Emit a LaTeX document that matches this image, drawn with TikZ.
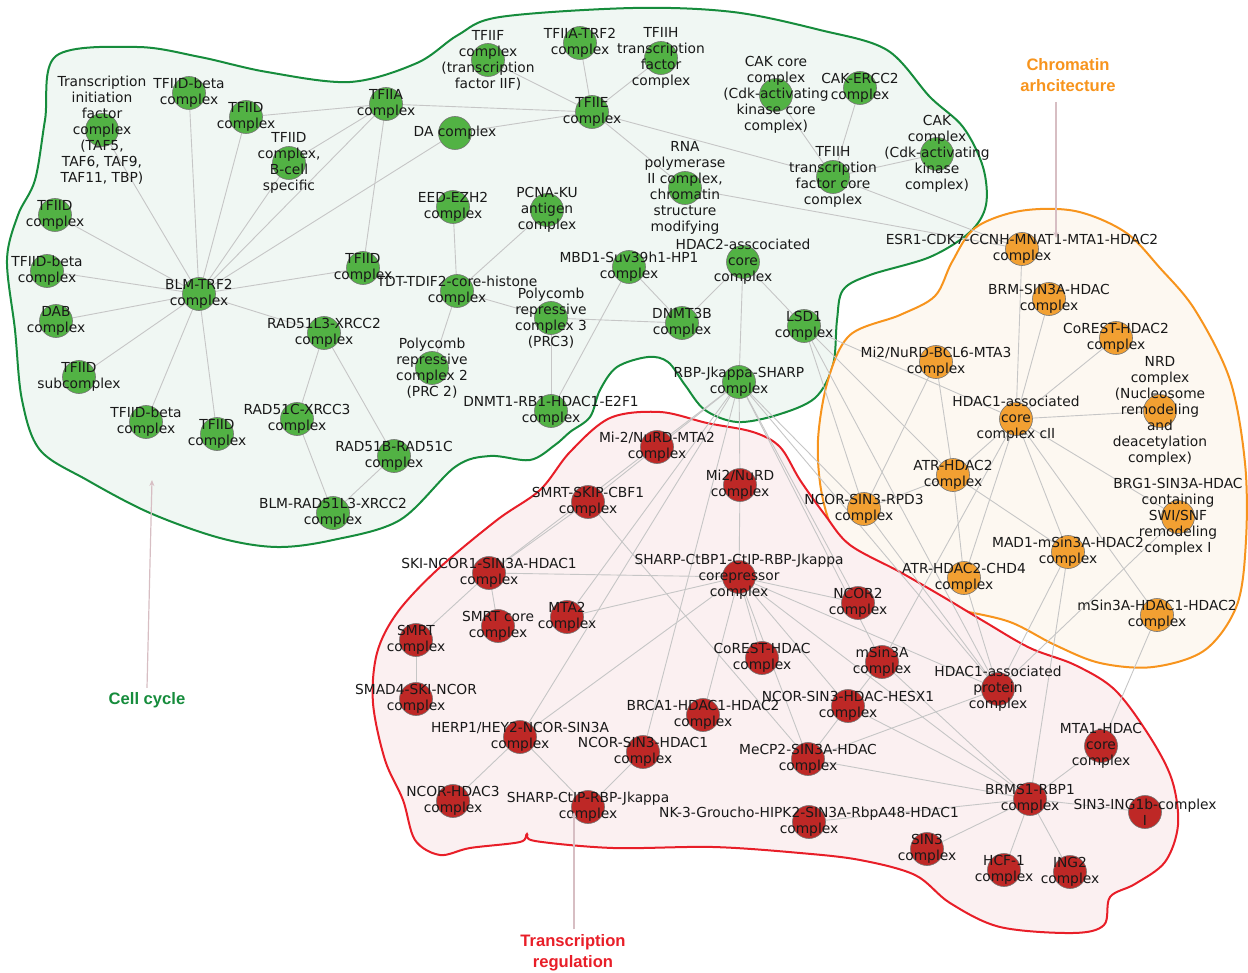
\documentclass[tikz,border=0pt]{standalone}
\usepackage{fontspec}
\setmainfont{DejaVu Sans}
\newfontfamily\lblfont{Liberation Sans}
\usetikzlibrary{arrows.meta}
\pgfdeclarelayer{bg}
\pgfdeclarelayer{edges}
\pgfsetlayers{bg,edges,main}
\definecolor{gnode}{RGB}{82,178,68}
\definecolor{onode}{RGB}{242,160,50}
\definecolor{rnode}{RGB}{190,40,38}
\definecolor{edgec}{RGB}{198,198,198}
\definecolor{gfill}{RGB}{240,247,243}
\definecolor{gline}{RGB}{22,140,60}
\definecolor{ofill}{RGB}{253,248,241}
\definecolor{oline}{RGB}{247,148,29}
\definecolor{rfill}{RGB}{251,240,241}
\definecolor{rline}{RGB}{232,30,40}
\definecolor{ptr}{RGB}{215,190,195}
\tikzset{
  G/.style={circle,draw=black!55,line width=0.3pt,fill=gnode,minimum size=16.5pt,inner sep=0pt},
  O/.style={circle,draw=black!55,line width=0.3pt,fill=onode,minimum size=16.5pt,inner sep=0pt},
  R/.style={circle,draw=black!55,line width=0.3pt,fill=rnode,minimum size=16.5pt,inner sep=0pt},
  lab/.style={align=center,inner sep=0pt,font=\fontsize{6.9}{8}\selectfont,text=black!90},
  ed/.style={draw=edgec,line width=0.45pt},
  region/.style={line width=1pt},
  bigl/.style={align=center,inner sep=0pt,font=\lblfont\bfseries\fontsize{8.3}{10.5}\selectfont},
  pointer/.style={draw=ptr,line width=0.6pt,-{Stealth[length=3pt,width=2.5pt]}}
}
\def\nodelist{%
tif/102/130/G/{Transcription\\initiation\\factor\\complex\\(TAF5,\\TAF6, TAF9,\\TAF11, TBP)},
tfiidbA/189/93/G/{TFIID-beta\\complex},
tfiidA/246/117/G/{TFIID\\complex},
tfiidB/289/163/G/{TFIID\\complex,\\B-cell\\specific},
tfiia/386/104/G/{TFIIA\\complex},
tfiidC/55/215/G/{TFIID\\complex},
tfiidbB/47/271/G/{TFIID-beta\\complex},
blm/199/294/G/{BLM-TRF2\\complex},
tfiidD/363/268/G/{TFIID\\complex},
dab/56/321/G/{DAB\\complex},
tfiidsub/79/377/G/{TFIID\\subcomplex},
tfiidbC/146/422/G/{TFIID-beta\\complex},
tfiidE/217/434/G/{TFIID\\complex},
rad51l3/324/333/G/{RAD51L3-XRCC2\\complex},
rad51c/297/419/G/{RAD51C-XRCC3\\complex},
rad51b/394/456/G/{RAD51B-RAD51C\\complex},
blmrad/333/513/G/{BLM-RAD51L3-XRCC2\\complex},
tdt/457/291/G/{TDT-TDIF2-core-histone\\complex},
prc3/551/318/G/{Polycomb\\repressive\\complex 3\\(PRC3)},
prc2/432/368/G/{Polycomb\\repressive\\complex 2\\(PRC 2)},
dnmt1/551/411/G/{DNMT1-RB1-HDAC1-E2F1\\complex},
mbd1/629/267/G/{MBD1-Suv39h1-HP1\\complex},
dnmt3b/682/323/G/{DNMT3B\\complex},
hdac2core/743/262/G/{HDAC2-asscociated\\core\\complex},
lsd1/804/326/G/{LSD1\\complex},
rbp/739/382/G/{RBP-Jkappa-SHARP\\complex},
eed/453/207/G/{EED-EZH2\\complex},
pcna/547/210/G/{PCNA-KU\\antigen\\complex},
da/455/133/G/{DA complex},
tfiie/592/112/G/{TFIIE\\complex},
tfiif/488/60/G/{TFIIF\\complex\\(transcription\\factor IIF)},
tfiiatrf/580/43/G/{TFIIA-TRF2\\complex},
tfiih/661/58/G/{TFIIH\\transcription\\factor\\complex},
cakcore/776/95/G/{CAK core\\complex\\(Cdk-activating\\kinase core\\complex)},
cakercc/860/88/G/{CAK-ERCC2\\complex},
rnapol/685/188/G/{RNA\\polymerase\\II complex,\\chromatin\\structure\\modifying},
tfiihcore/833/177/G/{TFIIH\\transcription\\factor core\\complex},
cak/937/154/G/{CAK\\complex\\(Cdk-activating\\kinase\\complex)},
esr1/1022/249/O/{ESR1-CDK7-CCNH-MNAT1-MTA1-HDAC2\\complex},
brm/1049/299/O/{BRM-SIN3A-HDAC\\complex},
corest2/1116/338/O/{CoREST-HDAC2\\complex},
mi2bcl6/936/362/O/{Mi2/NuRD-BCL6-MTA3\\complex},
corecII/1016/419/O/{HDAC1-associated\\core\\complex cII},
nrd/1160/411/O/{NRD\\complex\\(Nucleosome\\remodeling\\and\\deacetylation\\complex)},
atr/953/475/O/{ATR-HDAC2\\complex},
ncorrpd3/864/509/O/{NCOR-SIN3-RPD3\\complex},
brg1/1178/517/O/{BRG1-SIN3A-HDAC\\containing\\SWI/SNF\\remodeling\\complex I},
mad1/1068/552/O/{MAD1-mSin3A-HDAC2\\complex},
atrchd4/964/578/O/{ATR-HDAC2-CHD4\\complex},
msin3ahh/1157/615/O/{mSin3A-HDAC1-HDAC2\\complex},
mi2mta2/657/447/R/{Mi-2/NuRD-MTA2\\complex},
mi2nurd/740/485/R/{Mi2/NuRD\\complex},
smrtskip/588/502/R/{SMRT-SKIP-CBF1\\complex},
ski/489/573/R/{SKI-NCOR1-SIN3A-HDAC1\\complex},
corep/739/577/R/{SHARP-CtBP1-CtIP-RBP-Jkappa\\corepressor\\complex},
smrtcore/498/626/R/{SMRT core\\complex},
mta2/567/617/R/{MTA2\\complex},
smrt/416/640/R/{SMRT\\complex},
smad4/416/699/R/{SMAD4-SKI-NCOR\\complex},
corest/762/658/R/{CoREST-HDAC\\complex},
ncor2/858/603/R/{NCOR2\\complex},
msin3a/882/662/R/{mSin3A\\complex},
hdac1prot/998/689/R/{HDAC1-associated\\protein\\complex},
brca1/703/715/R/{BRCA1-HDAC1-HDAC2\\complex},
hesx1/848/706/R/{NCOR-SIN3-HDAC-HESX1\\complex},
herp1/520/737/R/{HERP1/HEY2-NCOR-SIN3A\\complex},
ncorhdac1/643/752/R/{NCOR-SIN3-HDAC1\\complex},
mecp2/808/759/R/{MeCP2-SIN3A-HDAC\\complex},
mta1/1101/746/R/{MTA1-HDAC\\core\\complex},
ncorhdac3/453/801/R/{NCOR-HDAC3\\complex},
sharpctip/588/807/R/{SHARP-CtIP-RBP-Jkappa\\complex},
brms1/1030/799/R/{BRMS1-RBP1\\complex},
sin3ing/1145/812/R/{SIN3-ING1b-complex\\I},
nk3/809/822/R/{NK-3-Groucho-HIPK2-SIN3A-RbpA48-HDAC1\\complex},
sin3/927/849/R/{SIN3\\complex},
hcf1/1004/870/R/{HCF-1\\complex},
ing2/1070/872/R/{ING2\\complex}%
}
\begin{document}
\begin{tikzpicture}[x=0.5pt,y=-0.5pt]
\useasboundingbox (0,0) rectangle (1248,973);
% nodes (circles)
\foreach \n/\x/\y/\c/\t in \nodelist {\node[\c] (\n) at (\x,\y) {};}
% labels
\foreach \n/\x/\y/\c/\t in \nodelist {\node[lab] (\n-t) at (\n) {\t};}
% regions
\begin{pgfonlayer}{bg}
\draw[region,draw=gline,fill=gfill] plot[smooth cycle,tension=0.55] coordinates {
 (56,56) (137,47) (200,57) (267,72) (350,82) (417,63) (458,35) (500,17) (633,8) (733,12) (820,30)
 (887,50) (930,97) (963,127) (983,167) (986,205) (970,232) (930,257) (870,275) (843,290) (837,320)
 (833,365) (815,398) (777,415) (737,422) (705,410) (685,385) (668,362) (648,357) (617,367) (600,390)
 (590,417) (570,432) (555,445) (530,460) (490,456) (455,467) (400,520) (333,540) (277,547) (220,538)
 (150,513) (87,480) (40,450) (22,400) (15,330) (7,260) (18,215) (35,180) (45,120)};
\draw[region,draw=oline,fill=ofill] plot[smooth cycle,tension=0.55] coordinates {
 (1020,211) (1075,211) (1125,232) (1160,268) (1195,310) (1230,380) (1245,463) (1246,540) (1237,605)
 (1205,650) (1153,667) (1100,663) (1055,645) (1010,622) (960,610) (915,598) (872,570) (838,540)
 (822,495) (818,440) (828,380) (850,335) (900,315) (935,296) (952,262) (975,228)};
\draw[region,draw=rline,fill=rfill] plot[smooth cycle,tension=0.55] coordinates {
 (497,520) (540,490) (570,452) (610,418) (660,412) (707,423) (753,432) (780,447) (800,480)
 (825,515) (850,545) (900,572) (945,598) (985,622) (1030,648) (1075,665) (1115,690) (1150,737)
 (1172,780) (1178,825) (1165,862) (1135,884) (1110,897) (1104,925) (1073,933) (1000,927) (950,903)
 (915,875) (860,860) (800,853) (713,847) (613,848) (535,841) (527,834) (520,842) (470,848) (440,855)
 (415,840) (403,800) (385,760) (373,703) (377,653) (397,613) (437,570)};
\end{pgfonlayer}
% edges
\begin{pgfonlayer}{edges}
\foreach \a/\b in {blm/tif,blm/tfiidbA,blm/tfiidA,blm/tfiidB,blm/tfiia,blm/da,blm/tfiidC,blm/tfiidbB,blm/dab,
 blm/tfiidsub,blm/tfiidbC,blm/tfiidE,blm/rad51l3,blm/tfiidD,
 tfiidA/tfiia,tfiidB/tfiia,tfiia/tfiidD,tfiia/tfiie,
 da/tfiie,tfiif/tfiie,tfiiatrf/tfiie,tfiih/tfiie,tfiie/rnapol,tfiie/tfiihcore,
 cakcore/tfiihcore,cakercc/tfiihcore,tfiihcore/cak,tfiihcore/esr1,rnapol/esr1,
 rad51l3/rad51c,rad51l3/rad51b,rad51c/blmrad,rad51b/blmrad,
 eed/tdt,pcna/tdt,tdt/prc3,tdt/prc2,prc3/dnmt3b,prc3/dnmt1,mbd1/dnmt1,mbd1/dnmt3b,
 hdac2core/dnmt3b,hdac2core/lsd1,hdac2core/rbp,
 rbp/smrtskip,rbp/mi2nurd,mi2nurd/corep,rbp/ncorhdac1,rbp/ski,rbp/mta2,rbp/herp1,rbp/ncorrpd3,rbp/ncor2,rbp/msin3a,rbp/hdac1prot,
 ski/smrtskip,ski/smrtcore,ski/smrt,smrt/smad4,ski/corep,mta2/corep,herp1/corep,herp1/ncorhdac3,
 herp1/sharpctip,sharpctip/ncorhdac1,brca1/corep,corest/corep,corep/ncor2,corep/mecp2,
 corep/hesx1,corep/hdac1prot,corep/brms1,smrtskip/mecp2,hesx1/mecp2,hesx1/msin3a,msin3a/corecII,mecp2/hdac1prot,
 mecp2/brms1,hesx1/brms1,msin3a/brms1,nk3/brms1,sin3/brms1,hcf1/brms1,ing2/brms1,sin3ing/brms1,
 mta1/brms1,mta1/msin3ahh,mad1/brms1,
 lsd1/atr,lsd1/corecII,lsd1/ncorrpd3,lsd1/hdac1prot,esr1/corecII,brm/corecII,corest2/corecII,nrd/corecII,
 mi2bcl6/atr,mi2bcl6/ncorrpd3,corecII/atr,corecII/atrchd4,corecII/mad1,corecII/msin3ahh,corecII/brg1,
 atr/ncorrpd3,atr/atrchd4,atr/mad1,brg1/hdac1prot,mad1/hdac1prot,ncorrpd3/hdac1prot,atrchd4/hdac1prot}
 {\draw[ed] (\a) -- (\b);}
\end{pgfonlayer}
% category labels
\node[bigl,text=gline] (lcell) at (147,700) {Cell cycle};
\coordinate (pcell) at (152,480);
\draw[pointer] (lcell.north) ++(0,-4) coordinate (pcs) -- (pcell);
\node[bigl,text=oline] (lchrom) at (1068,75) {Chromatin\\arhcitecture};
\coordinate (pchrom) at (1056,238);
\draw[pointer] (lchrom.south) ++(-12,10) coordinate (pcs2) -- (pchrom);
\node[bigl,text=rline] (ltr) at (573,953) {Transcription\\regulation};
\coordinate (ptr1) at (574,812);
\draw[pointer] (ltr.north) ++(1,-5) coordinate (pcs3) -- (ptr1);
\end{tikzpicture}
\end{document}
